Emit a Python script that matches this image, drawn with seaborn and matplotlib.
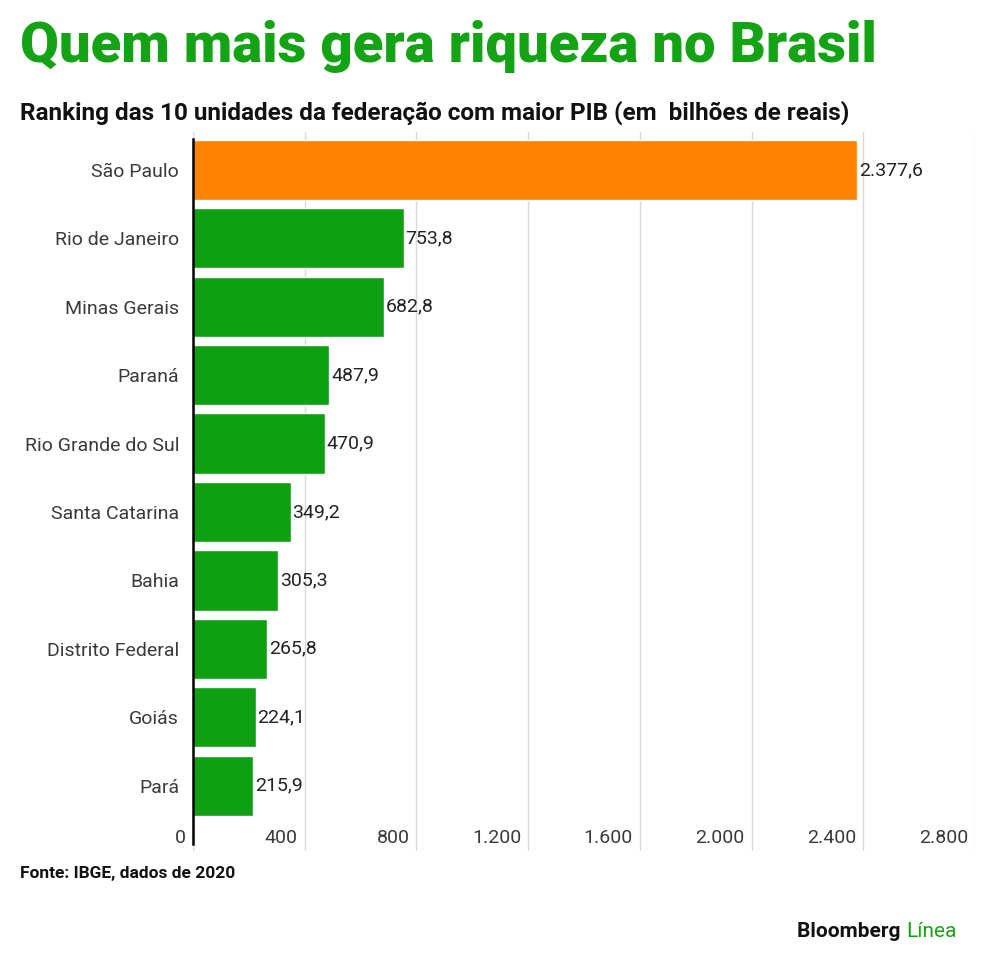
import pandas as pd
import numpy as np
import matplotlib.pyplot as plt
import matplotlib.transforms as mtransforms
import seaborn as sns

# ================================
# DATA
# ================================
estados = ["São Paulo", "Rio de Janeiro", "Minas Gerais", "Paraná",
           "Rio Grande do Sul", "Santa Catarina", "Bahia",
           "Distrito Federal", "Goiás", "Pará"]
pib = [2377.6, 753.8, 682.8, 487.9, 470.9, 349.2, 305.3, 265.8, 224.1, 215.9]
ticks = [0, 400, 800, 1200, 1600, 2000, 2400, 2800]
tick_labels = ["0", "400", "800", "1.200", "1.600", "2.000", "2.400", "2.800"]

GREEN = "#0f9f12"
ORANGE = "#ff8200"
TITLE_GREEN = "#14a314"


def br(v):
    # formato brasileiro: 2.377,6
    s = f"{v:,.1f}"
    return s.replace(",", "X").replace(".", ",").replace("X", ".")


df = pd.DataFrame({"estado": estados, "pib": pib})
df["grupo"] = ["top"] + ["resto"] * (len(df) - 1)

sns.set_theme(style="white")
plt.rcParams["font.family"] = ["Roboto", "DejaVu Sans"]

fig = plt.figure(figsize=(10, 9.8), dpi=100)
ax = fig.add_axes([0.193, 0.132, 0.782, 0.733])

sns.barplot(data=df, y="estado", x="pib", hue="grupo",
            palette={"top": ORANGE, "resto": GREEN},
            dodge=False, legend=False, width=0.88, saturation=1,
            ax=ax, zorder=3)

ax.set_xlim(0, 2800)
ax.set_ylim(9.95, -0.55)
ax.set_xlabel("")
ax.set_ylabel("")
ax.set_xticks(ticks)
ax.set_xticklabels([])
ax.tick_params(axis="x", length=0)
ax.tick_params(axis="y", length=0, labelsize=14, labelcolor="#3a3a3a", pad=10)
ax.grid(axis="x", color="#d9d9d9", linewidth=1, zorder=0)
for s in ["top", "right", "bottom"]:
    ax.spines[s].set_visible(False)
ax.spines["left"].set_color("black")
ax.spines["left"].set_linewidth(1.8)
ax.spines["left"].set_zorder(4)
ax.spines["left"].set_bounds(9.85, -0.45)

# tick labels of the value axis sit inside, right-aligned to each gridline
trans = mtransforms.blended_transform_factory(ax.transData, ax.transAxes)
off = mtransforms.ScaledTranslation(-5 / 72, 0, fig.dpi_scale_trans)
for t, lab in zip(ticks, tick_labels):
    ax.text(t, 0.018, lab, transform=trans + off, ha="right", va="center",
            fontsize=14, color="#3a3a3a")

# value labels
for i, v in enumerate(pib):
    ax.text(v + 6, i, br(v), ha="left", va="center", fontsize=14,
            color="#222222", zorder=5)

# titles
fig.text(0.02, 0.953, "Quem mais gera riqueza no Brasil", fontsize=40.5,
         fontweight="heavy", color=TITLE_GREEN, ha="left", va="center")
fig.text(0.02, 0.885, "Ranking das 10 unidades da federação com maior PIB (em  bilhões de reais)",
         fontsize=17.5, fontweight="bold", color="#111111", ha="left", va="center")
fig.text(0.02, 0.109, "Fonte: IBGE, dados de 2020", fontsize=12.5,
         fontweight="bold", color="#111111", ha="left", va="center")

t1 = fig.text(0.797, 0.049, "Bloomberg ", fontsize=15, fontweight="bold",
              color="#111111", ha="left", va="center")
fig.canvas.draw()
bb = t1.get_window_extent()
fig.text(bb.x1 / fig.bbox.width, 0.049, "Línea", fontsize=15,
         color=TITLE_GREEN, ha="left", va="center")

plt.savefig("out.png", dpi=100, facecolor="white")
